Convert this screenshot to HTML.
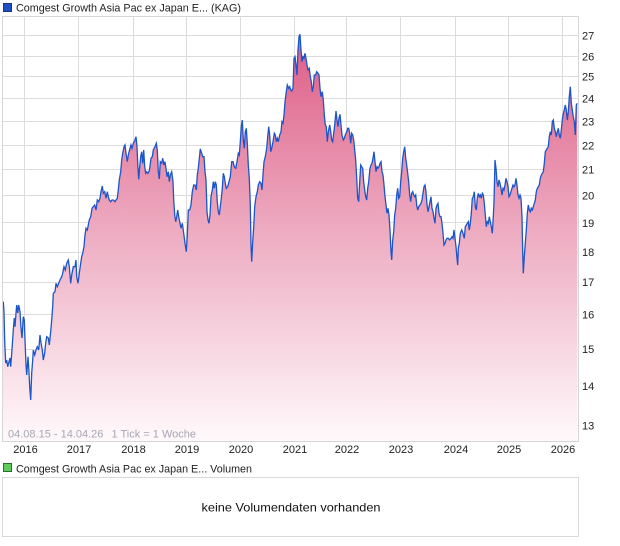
<!DOCTYPE html>
<html><head><meta charset="utf-8"><style>
html,body{margin:0;padding:0;background:#fff;}
svg{display:block;}
text{font-family:"Liberation Sans",Arial,sans-serif;}
</style></head><body>
<svg width="620" height="546" viewBox="0 0 620 546" xmlns="http://www.w3.org/2000/svg">
<defs>
<linearGradient id="g" gradientUnits="userSpaceOnUse" x1="0" y1="30" x2="0" y2="441">
<stop offset="0" stop-color="#dd5a85"/>
<stop offset="0.5" stop-color="#eeadc2"/>
<stop offset="1" stop-color="#fff9fb"/>
</linearGradient>
</defs>
<rect width="620" height="546" fill="#fff"/>
<!-- legend top -->
<rect x="3.5" y="3.5" width="8" height="8" fill="#1f50c0" stroke="#1c3480"/>
<text x="16" y="11.5" font-size="11" fill="#222" textLength="225" lengthAdjust="spacingAndGlyphs">Comgest Growth Asia Pac ex Japan E... (KAG)</text>
<!-- grid -->
<g stroke="#dcdcdc" stroke-width="1" fill="none">
<line x1="2" y1="35.5" x2="578" y2="35.5"/>
<line x1="2" y1="56.5" x2="578" y2="56.5"/>
<line x1="2" y1="76.5" x2="578" y2="76.5"/>
<line x1="2" y1="98.5" x2="578" y2="98.5"/>
<line x1="2" y1="121.5" x2="578" y2="121.5"/>
<line x1="2" y1="145.5" x2="578" y2="145.5"/>
<line x1="2" y1="169.5" x2="578" y2="169.5"/>
<line x1="2" y1="195.5" x2="578" y2="195.5"/>
<line x1="2" y1="222.5" x2="578" y2="222.5"/>
<line x1="2" y1="252.5" x2="578" y2="252.5"/>
<line x1="2" y1="282.5" x2="578" y2="282.5"/>
<line x1="2" y1="314.5" x2="578" y2="314.5"/>
<line x1="2" y1="349.5" x2="578" y2="349.5"/>
<line x1="2" y1="386.5" x2="578" y2="386.5"/>
<line x1="2" y1="425.5" x2="578" y2="425.5"/>
<line x1="24.5" y1="16" x2="24.5" y2="441"/>
<line x1="78.5" y1="16" x2="78.5" y2="441"/>
<line x1="133.5" y1="16" x2="133.5" y2="441"/>
<line x1="186.5" y1="16" x2="186.5" y2="441"/>
<line x1="240.5" y1="16" x2="240.5" y2="441"/>
<line x1="294.5" y1="16" x2="294.5" y2="441"/>
<line x1="346.5" y1="16" x2="346.5" y2="441"/>
<line x1="400.5" y1="16" x2="400.5" y2="441"/>
<line x1="455.5" y1="16" x2="455.5" y2="441"/>
<line x1="508.5" y1="16" x2="508.5" y2="441"/>
<line x1="562.5" y1="16" x2="562.5" y2="441"/>
</g>
<!-- series -->
<path id="fillp" fill="url(#g)" stroke="none" d="M3.3,301.7 L4,311.7 4.7,341.7 5.7,363 6.7,360 7.7,366.7 10,358 10.7,366.7 12.3,345 13.3,330 14.3,318 15,326.7 16,313 16.7,305 17.7,313 18.7,305 20,311.7 21,328 22,338 23.3,316.7 24.3,320 25,340 26,365 26.7,375 28,356.7 29,373 29.7,386.7 30.7,400 31.7,373 32.7,360 33.3,350 34.7,355 36,350 37.3,346.7 38.7,350 40,335 41,343 42.3,350 43.3,360 44.7,353 45.7,343 46.7,336.7 48.3,338 49.3,345 50.7,331.7 51.7,320 52.7,306.7 53.3,293.3 55,291.7 56,283.3 57.3,286.7 58.7,283.3 60,280 61.7,276.7 62.7,273.3 64,266.7 65.3,270 66.7,263.3 68.3,260 69.3,266.7 70.7,283.3 71.7,275 73.3,266.7 75,266.7 76,260 76.7,276.7 78,283.3 79.3,273.3 80.7,263.3 81.7,256.7 82.7,253.3 84,246.7 85,235 86,228.3 87.3,230 88.3,225 89.3,220 90.7,216.7 92,208.3 93.3,206.7 94.7,205 96,210 97.3,200 98.7,201.7 100,198.3 101,191.7 102.3,186 103.3,193.3 104.7,191.7 106,198.3 107.3,191.7 108.3,196.7 109.3,200 110.7,201.7 112,200 113.3,200 115,201.7 116,200 117.3,198.3 118.3,190 119.3,180 120.7,171.7 121.7,160 122.7,153.3 124,146.7 125,145 126,153.3 127.3,161.7 128.3,155 130,148.3 131,145 132,148.3 133.3,143.3 135,140 136,136.7 137,146.7 137.7,163.3 138.7,179.3 139.7,166.7 140.7,156.7 141.7,151.7 142.7,163.3 143.7,150 144.7,166.7 145.7,173.3 146.7,171.7 148,173.3 149.3,170.7 149.7,168.3 151,158.3 152.3,156.7 153.3,150 155,146.7 156.3,143.3 157.3,150 158.3,171.7 159.3,179 160.3,161.7 161.7,163.3 162.7,158.3 164,165 165,161.7 166,168.3 167,176.7 168.3,171.7 169.3,181.7 170.3,175 171.7,171.7 173,181.7 173.7,200 174.7,215 175.7,221.7 176.7,216.7 177.7,210 178.7,216.7 180,223.3 181,228.3 182.3,223.3 183.7,233.3 185,243.3 186.3,251.7 187.3,235 188.3,210 189.7,210 191,205 192.3,191.7 193.7,185 195,185 196.3,190 197.3,175 198.3,168.3 199.3,158.3 200.3,149 201.7,153.3 202.7,156.7 204,156.7 205,171.7 206,180 207,211.7 208,220 209,223.3 210,215 211,196.7 212.3,190 213.3,181.7 214.3,188.3 215.3,181.7 216.3,185 217.3,201.7 218.3,211.7 219.3,215 220.3,206.7 221.3,198.3 222.3,188.3 223.3,173.3 224.3,176.7 225.3,183.3 226.3,188.3 227.7,186.7 229,181.7 230.3,176.7 231.7,161.7 233,161.7 234.3,166.7 235.7,168.3 237,161.7 238.3,153.3 239.3,155 240.3,141.7 241.3,126.7 242.3,120 243.3,140 244.3,148.3 245.3,131.7 246.3,128.3 247.3,143.3 248.3,165 249.3,178.3 250.3,205 251,245 251.7,261.7 252.7,241.7 253.7,226.7 254.7,206.7 256,196.7 257.3,191.7 258.3,185 259.7,181.7 261,183.3 262,190 263,175 264,161.7 265.3,156.7 266.7,148.3 267.7,136.7 268.7,126.7 269.7,135 270.7,151.7 271.7,148.3 273,141.7 274.3,133.3 275.3,135 276.3,141.7 277.3,138.3 278.3,141.7 279.7,135 281,131.7 282,121.7 283,123.3 284,115 285,101.7 286.3,91.7 287.3,85 288.7,88.3 289.7,86.7 290.7,90 291.7,91 293,88.3 294,58.3 295,56.7 296,65 297,75 298,50 299,36.7 300,34.3 301,50 302,61.7 303,56.7 304,58.3 305,53.3 306,58.3 307,65 308,70 309.3,68.3 310.3,76.7 311.3,81.7 312.3,91.7 313.3,86.7 314.3,75 315.7,75 316.7,71.7 318,73.3 319,75 320,88.3 321,96.7 322.3,91.7 323.3,100 324.3,115 325.3,125 326.3,126.7 327.3,141.7 328.3,131.7 329.7,125 330.7,131.7 331.7,140 332.7,141.7 333.7,133.3 334.7,125 336,111 337,120 338,126.7 339,118.3 340,114.3 341,125 342,135 343.3,140 344.3,138.3 345.3,135 346.7,131.7 347.7,128.3 348.7,128.3 349.7,133.3 350.7,143.3 351.7,133.3 352.7,135 353.7,140 354.7,150 355.7,160 356.7,178.3 357.7,198.3 358.7,201.7 359.7,181.7 360.7,165 361.7,166.7 362.7,168.3 363.7,181.7 364.7,190 365.7,196.7 366.7,200 367.7,188.3 368.7,181.7 370,168.3 371,165 372,163.3 373,158.3 374,151.7 375,161.7 376,171.7 377,166.7 378,168.3 379,166.7 380,163.3 381,161.7 382,171.7 383,175 384,185 385,196.7 386,205 387,213.3 388,208.3 389,215 390,230 391,251.7 391.7,260 392.7,240 393.7,231.7 394.7,215 395.7,208.3 396.7,195 397.7,188.3 398.7,198.3 399.7,196.7 400.7,181.7 401.7,171.7 402.7,158.3 403.7,151.7 404.7,146.7 405.7,158.3 406.7,165 407.7,173.3 408.7,181.7 409.7,195 410.7,201.7 411.7,193.3 412.7,191.7 413.7,195 414.7,196.7 415.7,195 416.7,205 417.7,210 418.7,206.7 420,205 421,203.3 422,200 423,193.3 424,186.7 425,185 426,191.7 427,205 428,211.7 429,206.7 430,201.7 431,196.7 432,208.3 433,211.7 434,218.3 435,223.3 436,208.3 437,205 438,203.3 439,213.3 440,216.7 441,216.7 442,223.3 443,233.3 444,245 445,243.3 446,240 447,238.3 448.3,238.3 449.7,240 451,238.3 452,236.7 453,238.3 454,230 455,238.3 456,246.7 457,258.3 457.7,265 458.3,248.3 459.3,243.3 460.3,233.3 461.7,230 463,233.3 464.3,238.3 465.3,226.7 466.3,225 467.3,223.3 468.3,221.7 469.3,230 470.3,223.3 471.3,213.3 472.3,198.3 473.3,196.7 474.3,191.7 475.3,206.7 476.3,210 477.3,198.3 478.3,193.3 479.3,196.7 480.3,195 481.3,198.3 482.3,193.3 483.3,195 484.3,203.3 485.3,215 486.3,226.7 487.3,221.7 488.3,223.3 489.3,216.7 490.3,221.7 491.3,226.7 492.3,233.3 493.3,216.7 494,201.7 495,160 496,168.3 497,181.7 498,186.7 499,180 500,183.3 501,188.3 502,195 503,188.3 504,190 505,185 506,178.3 507,181.7 508,186.7 509,196.7 510,195 511,191.7 512,188.3 513,185 514,186.7 515,185 516,178.3 517,185 518,195 519,198.3 520,195 521,198.3 522,216.7 522.7,251.7 523.3,273.3 524.3,256.7 525.3,243.3 526.3,230 527.3,213.3 528.3,205 529.3,210 530.3,211.7 531.3,208.3 532.3,210 533.3,206.7 534.3,203.3 535.3,200 536.3,191.7 537.3,188.3 538.3,186.7 539.3,185 540.3,178.3 541.3,175 542.3,173.3 543.3,171.7 544.3,163.3 545.3,151.7 546.3,150 547.3,148.3 548.3,146.7 549.3,136.7 550.3,131.7 551.3,135 552.3,121.7 553.3,120 554.3,128.3 555.3,131.7 556.3,136.7 557.3,131.7 558.3,128.3 559.3,135 560.3,138.3 561.3,130 562.3,120 563.3,113.3 564.3,110 565.3,105 566.3,110 567.3,120 568.3,111.7 569.3,96.7 570.3,86.7 571.3,103.3 572.3,110 573.3,116.7 574.3,121.7 575.3,135 576.3,105 577.3,103.3 L577.3,441 L3,441 L3,301.7 Z"/>
<polyline fill="none" stroke="#1d55c8" stroke-width="1.3" stroke-linejoin="miter" points="3.3,301.7 4,311.7 4.7,341.7 5.7,363 6.7,360 7.7,366.7 10,358 10.7,366.7 12.3,345 13.3,330 14.3,318 15,326.7 16,313 16.7,305 17.7,313 18.7,305 20,311.7 21,328 22,338 23.3,316.7 24.3,320 25,340 26,365 26.7,375 28,356.7 29,373 29.7,386.7 30.7,400 31.7,373 32.7,360 33.3,350 34.7,355 36,350 37.3,346.7 38.7,350 40,335 41,343 42.3,350 43.3,360 44.7,353 45.7,343 46.7,336.7 48.3,338 49.3,345 50.7,331.7 51.7,320 52.7,306.7 53.3,293.3 55,291.7 56,283.3 57.3,286.7 58.7,283.3 60,280 61.7,276.7 62.7,273.3 64,266.7 65.3,270 66.7,263.3 68.3,260 69.3,266.7 70.7,283.3 71.7,275 73.3,266.7 75,266.7 76,260 76.7,276.7 78,283.3 79.3,273.3 80.7,263.3 81.7,256.7 82.7,253.3 84,246.7 85,235 86,228.3 87.3,230 88.3,225 89.3,220 90.7,216.7 92,208.3 93.3,206.7 94.7,205 96,210 97.3,200 98.7,201.7 100,198.3 101,191.7 102.3,186 103.3,193.3 104.7,191.7 106,198.3 107.3,191.7 108.3,196.7 109.3,200 110.7,201.7 112,200 113.3,200 115,201.7 116,200 117.3,198.3 118.3,190 119.3,180 120.7,171.7 121.7,160 122.7,153.3 124,146.7 125,145 126,153.3 127.3,161.7 128.3,155 130,148.3 131,145 132,148.3 133.3,143.3 135,140 136,136.7 137,146.7 137.7,163.3 138.7,179.3 139.7,166.7 140.7,156.7 141.7,151.7 142.7,163.3 143.7,150 144.7,166.7 145.7,173.3 146.7,171.7 148,173.3 149.3,170.7 149.7,168.3 151,158.3 152.3,156.7 153.3,150 155,146.7 156.3,143.3 157.3,150 158.3,171.7 159.3,179 160.3,161.7 161.7,163.3 162.7,158.3 164,165 165,161.7 166,168.3 167,176.7 168.3,171.7 169.3,181.7 170.3,175 171.7,171.7 173,181.7 173.7,200 174.7,215 175.7,221.7 176.7,216.7 177.7,210 178.7,216.7 180,223.3 181,228.3 182.3,223.3 183.7,233.3 185,243.3 186.3,251.7 187.3,235 188.3,210 189.7,210 191,205 192.3,191.7 193.7,185 195,185 196.3,190 197.3,175 198.3,168.3 199.3,158.3 200.3,149 201.7,153.3 202.7,156.7 204,156.7 205,171.7 206,180 207,211.7 208,220 209,223.3 210,215 211,196.7 212.3,190 213.3,181.7 214.3,188.3 215.3,181.7 216.3,185 217.3,201.7 218.3,211.7 219.3,215 220.3,206.7 221.3,198.3 222.3,188.3 223.3,173.3 224.3,176.7 225.3,183.3 226.3,188.3 227.7,186.7 229,181.7 230.3,176.7 231.7,161.7 233,161.7 234.3,166.7 235.7,168.3 237,161.7 238.3,153.3 239.3,155 240.3,141.7 241.3,126.7 242.3,120 243.3,140 244.3,148.3 245.3,131.7 246.3,128.3 247.3,143.3 248.3,165 249.3,178.3 250.3,205 251,245 251.7,261.7 252.7,241.7 253.7,226.7 254.7,206.7 256,196.7 257.3,191.7 258.3,185 259.7,181.7 261,183.3 262,190 263,175 264,161.7 265.3,156.7 266.7,148.3 267.7,136.7 268.7,126.7 269.7,135 270.7,151.7 271.7,148.3 273,141.7 274.3,133.3 275.3,135 276.3,141.7 277.3,138.3 278.3,141.7 279.7,135 281,131.7 282,121.7 283,123.3 284,115 285,101.7 286.3,91.7 287.3,85 288.7,88.3 289.7,86.7 290.7,90 291.7,91 293,88.3 294,58.3 295,56.7 296,65 297,75 298,50 299,36.7 300,34.3 301,50 302,61.7 303,56.7 304,58.3 305,53.3 306,58.3 307,65 308,70 309.3,68.3 310.3,76.7 311.3,81.7 312.3,91.7 313.3,86.7 314.3,75 315.7,75 316.7,71.7 318,73.3 319,75 320,88.3 321,96.7 322.3,91.7 323.3,100 324.3,115 325.3,125 326.3,126.7 327.3,141.7 328.3,131.7 329.7,125 330.7,131.7 331.7,140 332.7,141.7 333.7,133.3 334.7,125 336,111 337,120 338,126.7 339,118.3 340,114.3 341,125 342,135 343.3,140 344.3,138.3 345.3,135 346.7,131.7 347.7,128.3 348.7,128.3 349.7,133.3 350.7,143.3 351.7,133.3 352.7,135 353.7,140 354.7,150 355.7,160 356.7,178.3 357.7,198.3 358.7,201.7 359.7,181.7 360.7,165 361.7,166.7 362.7,168.3 363.7,181.7 364.7,190 365.7,196.7 366.7,200 367.7,188.3 368.7,181.7 370,168.3 371,165 372,163.3 373,158.3 374,151.7 375,161.7 376,171.7 377,166.7 378,168.3 379,166.7 380,163.3 381,161.7 382,171.7 383,175 384,185 385,196.7 386,205 387,213.3 388,208.3 389,215 390,230 391,251.7 391.7,260 392.7,240 393.7,231.7 394.7,215 395.7,208.3 396.7,195 397.7,188.3 398.7,198.3 399.7,196.7 400.7,181.7 401.7,171.7 402.7,158.3 403.7,151.7 404.7,146.7 405.7,158.3 406.7,165 407.7,173.3 408.7,181.7 409.7,195 410.7,201.7 411.7,193.3 412.7,191.7 413.7,195 414.7,196.7 415.7,195 416.7,205 417.7,210 418.7,206.7 420,205 421,203.3 422,200 423,193.3 424,186.7 425,185 426,191.7 427,205 428,211.7 429,206.7 430,201.7 431,196.7 432,208.3 433,211.7 434,218.3 435,223.3 436,208.3 437,205 438,203.3 439,213.3 440,216.7 441,216.7 442,223.3 443,233.3 444,245 445,243.3 446,240 447,238.3 448.3,238.3 449.7,240 451,238.3 452,236.7 453,238.3 454,230 455,238.3 456,246.7 457,258.3 457.7,265 458.3,248.3 459.3,243.3 460.3,233.3 461.7,230 463,233.3 464.3,238.3 465.3,226.7 466.3,225 467.3,223.3 468.3,221.7 469.3,230 470.3,223.3 471.3,213.3 472.3,198.3 473.3,196.7 474.3,191.7 475.3,206.7 476.3,210 477.3,198.3 478.3,193.3 479.3,196.7 480.3,195 481.3,198.3 482.3,193.3 483.3,195 484.3,203.3 485.3,215 486.3,226.7 487.3,221.7 488.3,223.3 489.3,216.7 490.3,221.7 491.3,226.7 492.3,233.3 493.3,216.7 494,201.7 495,160 496,168.3 497,181.7 498,186.7 499,180 500,183.3 501,188.3 502,195 503,188.3 504,190 505,185 506,178.3 507,181.7 508,186.7 509,196.7 510,195 511,191.7 512,188.3 513,185 514,186.7 515,185 516,178.3 517,185 518,195 519,198.3 520,195 521,198.3 522,216.7 522.7,251.7 523.3,273.3 524.3,256.7 525.3,243.3 526.3,230 527.3,213.3 528.3,205 529.3,210 530.3,211.7 531.3,208.3 532.3,210 533.3,206.7 534.3,203.3 535.3,200 536.3,191.7 537.3,188.3 538.3,186.7 539.3,185 540.3,178.3 541.3,175 542.3,173.3 543.3,171.7 544.3,163.3 545.3,151.7 546.3,150 547.3,148.3 548.3,146.7 549.3,136.7 550.3,131.7 551.3,135 552.3,121.7 553.3,120 554.3,128.3 555.3,131.7 556.3,136.7 557.3,131.7 558.3,128.3 559.3,135 560.3,138.3 561.3,130 562.3,120 563.3,113.3 564.3,110 565.3,105 566.3,110 567.3,120 568.3,111.7 569.3,96.7 570.3,86.7 571.3,103.3 572.3,110 573.3,116.7 574.3,121.7 575.3,135 576.3,105 577.3,103.3"/>
<!-- plot border -->
<rect x="2.5" y="16.5" width="576" height="425" fill="none" stroke="#d6d6d6" stroke-width="1"/>
<!-- date info -->
<text x="8" y="437.5" font-size="11" fill="#a6a6b4">04.08.15 - 14.04.26</text>
<text x="111.5" y="437.5" font-size="11" fill="#a6a6b4">1 Tick = 1 Woche</text>
<!-- y labels -->
<g font-size="11" fill="#222">
<text x="582" y="39.5">27</text>
<text x="582" y="60.5">26</text>
<text x="582" y="80.5">25</text>
<text x="582" y="102.5">24</text>
<text x="582" y="125.5">23</text>
<text x="582" y="149.5">22</text>
<text x="582" y="173.5">21</text>
<text x="582" y="199.5">20</text>
<text x="582" y="227">19</text>
<text x="582" y="256">18</text>
<text x="582" y="286">17</text>
<text x="582" y="318.5">16</text>
<text x="582" y="353">15</text>
<text x="582" y="390">14</text>
<text x="582" y="429.5">13</text>
</g>
<!-- x labels -->
<g font-size="11" fill="#222" text-anchor="middle">
<text x="25.5" y="453">2016</text>
<text x="79" y="453">2017</text>
<text x="133.5" y="453">2018</text>
<text x="187" y="453">2019</text>
<text x="241" y="453">2020</text>
<text x="295" y="453">2021</text>
<text x="347" y="453">2022</text>
<text x="401" y="453">2023</text>
<text x="456" y="453">2024</text>
<text x="509" y="453">2025</text>
<text x="563" y="453">2026</text>
</g>
<!-- volume legend -->
<rect x="3.5" y="463.5" width="8" height="8" fill="#5fcb5f" stroke="#2a6e2a"/>
<text x="16" y="472.5" font-size="11" fill="#222" textLength="236" lengthAdjust="spacingAndGlyphs">Comgest Growth Asia Pac ex Japan E... Volumen</text>
<rect x="2.5" y="477.5" width="576" height="59" fill="#fff" stroke="#d9d9d9" stroke-width="1"/>
<text x="201.5" y="511.5" font-size="12" fill="#111" textLength="179" lengthAdjust="spacingAndGlyphs">keine Volumendaten vorhanden</text>
</svg>
</body></html>
